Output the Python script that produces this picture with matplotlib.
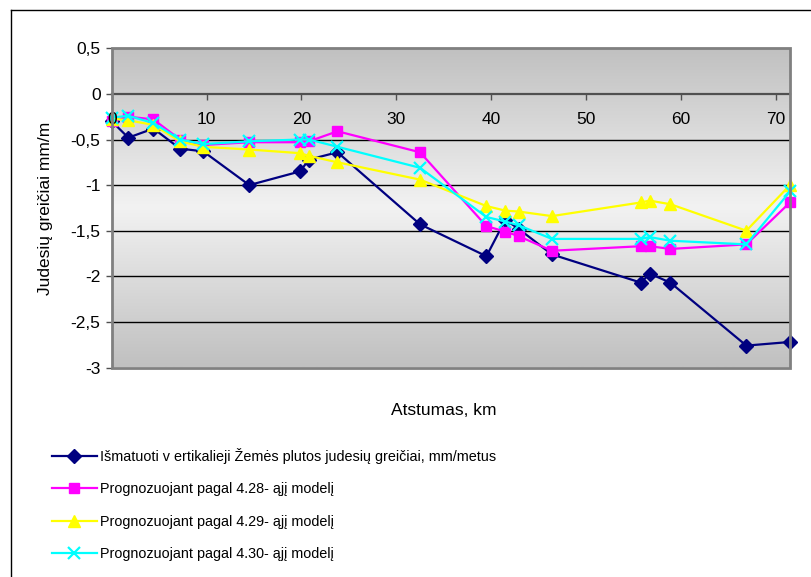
import numpy as np
import matplotlib
matplotlib.use('Agg')
import matplotlib.pyplot as plt
from matplotlib.colors import LinearSegmentedColormap
from matplotlib.lines import Line2D
from matplotlib.patches import Rectangle

plt.rcParams['font.family'] = ['Liberation Sans', 'DejaVu Sans']

# Distance along the profile, km
distance = [0, 1.75, 4.4, 7.2, 9.65, 14.5, 19.85, 20.8, 23.8, 32.5,
            39.5, 41.5, 42.9, 46.4, 55.8, 56.7, 58.9, 66.9, 71.5]

measured = [-0.30, -0.48, -0.38, -0.60, -0.63, -1.00, -0.85, -0.72, -0.64, -1.43,
            -1.78, -1.38, -1.48, -1.76, -2.07, -1.97, -2.07, -2.76, -2.72]
model_428 = [-0.30, -0.25, -0.28, -0.50, -0.56, -0.53, -0.53, -0.52, -0.41, -0.64,
             -1.45, -1.51, -1.56, -1.72, -1.67, -1.67, -1.70, -1.65, -1.19]
model_429 = [-0.27, -0.29, -0.34, -0.52, -0.58, -0.61, -0.65, -0.68, -0.75, -0.94,
             -1.23, -1.28, -1.29, -1.34, -1.19, -1.17, -1.21, -1.50, -1.00]
model_430 = [-0.26, -0.24, -0.32, -0.50, -0.55, -0.52, -0.50, -0.50, -0.58, -0.81,
             -1.35, -1.40, -1.44, -1.59, -1.59, -1.57, -1.61, -1.65, -1.07]

labels = ['Išmatuoti v ertikalieji Žemės plutos judesių greičiai, mm/metus',
          'Prognozuojant pagal 4.28- ąjį modelį',
          'Prognozuojant pagal 4.29- ąjį modelį',
          'Prognozuojant pagal 4.30- ąjį modelį']

W, H = 812, 577
fig = plt.figure(figsize=(W / 100, H / 100), dpi=100)

x0, x1, y0, y1 = 111.7, 790, 48.3, 367.5
ax = fig.add_axes([x0 / W, 1 - y1 / H, (x1 - x0) / W, (y1 - y0) / H])

# gray-light-gray vertical gradient background
cmap = LinearSegmentedColormap.from_list('bg', ['#c0c0c0', '#f2f2f2', '#c0c0c0'])
grad = np.linspace(0, 1, 256).reshape(-1, 1)
ax.imshow(grad, cmap=cmap, extent=[0, 1, 0, 1], transform=ax.transAxes,
          aspect='auto', zorder=0)

ax.set_xlim(0, 71.5)
ax.set_ylim(-3, 0.5)
ax.set_yticks(np.arange(-3, 0.51, 0.5))
ax.set_yticklabels(['-3', '-2,5', '-2', '-1,5', '-1', '-0,5', '0', '0,5'])
ax.set_xticks(np.arange(0, 71, 10))
for yv in np.arange(-2.5, 0.1, 0.5):
    if yv != 0:
        ax.axhline(yv, color='black', lw=1.0, zorder=1)

for s in ['top', 'right', 'left']:
    ax.spines[s].set_visible(False)
ax.spines['bottom'].set_position(('data', 0))
ax.spines['bottom'].set_color('#505050')
ax.spines['bottom'].set_linewidth(1.6)
ax.spines['bottom'].set_zorder(1.5)
ax.add_patch(Rectangle((0, 0), 1, 1, transform=ax.transAxes, fill=False,
                       edgecolor='#808080', lw=2, zorder=5, clip_on=False))

ax.tick_params(axis='y', direction='out', length=4, width=1, color='#505050',
               labelsize=12.5, pad=4)
ax.tick_params(axis='x', direction='out', length=4, width=1, color='#505050',
               labelsize=12.5, pad=9)
# x tick labels sit over the data, as in the original
ax.xaxis.set_zorder(4)

styles = [
    dict(color='#000080', marker='D', markersize=7),
    dict(color='#ff00ff', marker='s', markersize=7),
    dict(color='#ffff00', marker='^', markersize=8),
    dict(color='#00ffff', marker='x', markersize=8, markeredgewidth=1.6),
]
series = [measured, model_428, model_429, model_430]
handles = []
for vals, st, lab in zip(series, styles, labels):
    h, = ax.plot(distance, vals, lw=1.6, label=lab, zorder=3, clip_on=False, **st)
    handles.append(h)

ax.set_ylabel('Judesių greičiai mm/m', fontsize=12.5, labelpad=13)
ax.set_xlabel('Atstumas, km', fontsize=12.5)
ax.xaxis.set_label_coords(0.49, -0.11)

fig.legend(handles=handles, loc='upper left', bbox_to_anchor=(52 / W, 1 - 448 / H),
           frameon=False, fontsize=10.4, handlelength=3.1, handletextpad=0.2,
           labelspacing=1.28, borderpad=0, borderaxespad=0)

# chart frame (left and top edges visible)
fig.add_artist(Line2D([11 / W, 11 / W], [0, 1 - 10 / H], color='black', lw=1,
                      transform=fig.transFigure))
fig.add_artist(Line2D([11 / W, 1], [1 - 10 / H, 1 - 10 / H], color='black', lw=1,
                      transform=fig.transFigure))

fig.savefig('out.png', dpi=100)
